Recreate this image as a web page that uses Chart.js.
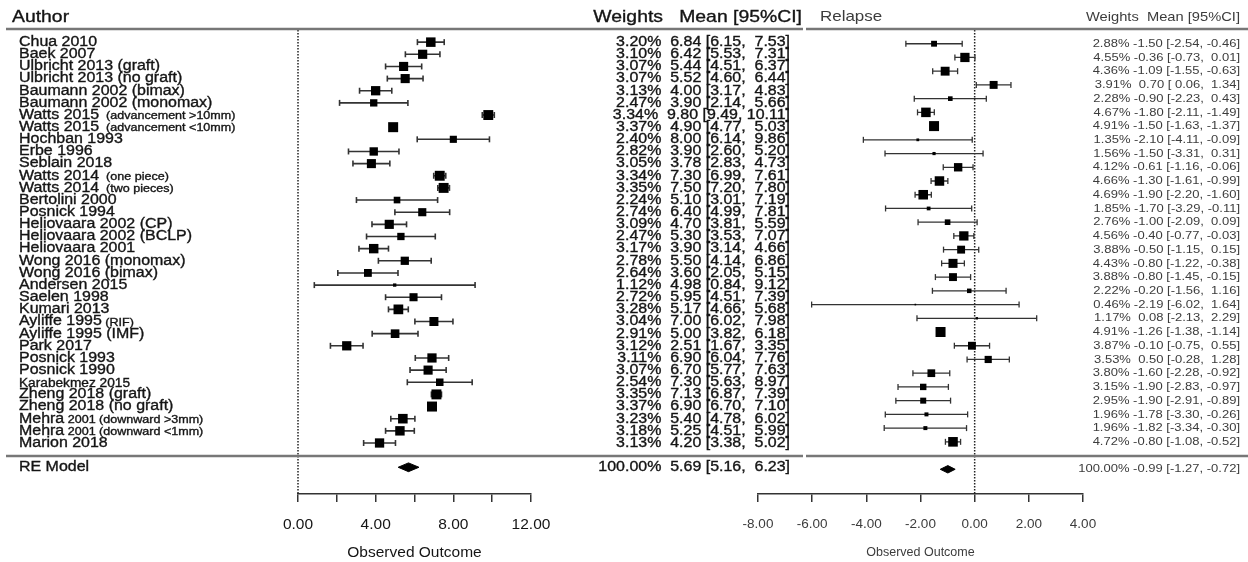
<!DOCTYPE html>
<html>
<head>
<meta charset="utf-8">
<script src="https://cdn.jsdelivr.net/npm/chart.js@4.4.1/dist/chart.umd.min.js"></script>
<style>
  body { margin: 0; background: #fff; }
  #wrap { position: relative; width: 1248px; height: 562px; }
  canvas { position: absolute; left: 0; top: 0; }
</style>
</head>
<body>
<div id="wrap">
  <canvas id="chartLeft" width="1248" height="562"></canvas>
  <canvas id="chartRight" width="1248" height="562"></canvas>
</div>
<script>
const FONT = "'Liberation Sans', Arial, Helvetica, sans-serif";
let refValue = 0;

// left panel
let authorNames = ['Chua 2010', 'Baek 2007', 'Ulbricht 2013 (graft)', 'Ulbricht 2013 (no graft)',
  'Baumann 2002 (bimax)', 'Baumann 2002 (monomax)', 'Watts 2015', 'Watts 2015', 'Hochban 1993',
  'Erbe 1996', 'Seblain 2018', 'Watts 2014', 'Watts 2014', 'Bertolini 2000', 'Posnick 1994',
  'Heliovaara 2002 (CP)', 'Heliovaara 2002 (BCLP)', 'Heliovaara 2001', 'Wong 2016 (monomax)',
  'Wong 2016 (bimax)', 'Andersen 2015', 'Saelen 1998', 'Kumari 2013', 'Ayliffe 1995',
  'Ayliffe 1995 (IMF)', 'Park 2017', 'Posnick 1993', 'Posnick 1990', '', 'Zheng 2018 (graft)',
  'Zheng 2018 (no graft)', 'Mehra', 'Mehra', 'Marion 2018'];
let authorNotes = ['', '', '', '', '', '', '  (advancement >10mm)', '  (advancement <10mm)', '', '',
  '', '  (one piece)', '  (two pieces)', '', '', '', '', '', '', '', '', '', '', ' (RIF)', '', '',
  '', '', 'Karabekmez 2015', '', '', ' 2001 (downward >3mm)', ' 2001 (downward <1mm)', ''];
let weightsLeft = [3.20, 3.10, 3.07, 3.07, 3.13, 2.47, 3.34, 3.37, 2.40, 2.82, 3.05, 3.34, 3.35,
  2.24, 2.74, 3.09, 2.47, 3.17, 2.78, 2.64, 1.12, 2.72, 3.28, 3.04, 2.91, 3.12, 3.11, 3.07, 2.54,
  3.35, 3.37, 3.23, 3.18, 3.13];
let meanLeft = [6.84, 6.42, 5.44, 5.52, 4.00, 3.90, 9.80, 4.90, 8.00, 3.90, 3.78, 7.30, 7.50,
  5.10, 6.40, 4.70, 5.30, 3.90, 5.50, 3.60, 4.98, 5.95, 5.17, 7.00, 5.00, 2.51, 6.90, 6.70, 7.30,
  7.13, 6.90, 5.40, 5.25, 4.20];
let lowerLeft = [6.15, 5.53, 4.51, 4.60, 3.17, 2.14, 9.49, 4.77, 6.14, 2.60, 2.83, 6.99, 7.20,
  3.01, 4.99, 3.81, 3.53, 3.14, 4.14, 2.05, 0.84, 4.51, 4.66, 6.02, 3.82, 1.67, 6.04, 5.77, 5.63,
  6.87, 6.70, 4.78, 4.51, 3.38];
let upperLeft = [7.53, 7.31, 6.37, 6.44, 4.83, 5.66, 10.11, 5.03, 9.86, 5.20, 4.73, 7.61, 7.80,
  7.19, 7.81, 5.59, 7.07, 4.66, 6.86, 5.15, 9.12, 7.39, 5.68, 7.98, 6.18, 3.35, 7.76, 7.63, 8.97,
  7.39, 7.10, 6.02, 5.99, 5.02];
let modelLeft = [5.69, 5.16, 6.23]; // estimate, lower, upper
let axisLeft = [0, 12, 2];          // min, max, step

// right panel (relapse)
let weightsRight = [2.88, 4.55, 4.36, 3.91, 2.28, 4.67, 4.91, 1.35, 1.56, 4.12, 4.66, 4.69, 1.85,
  2.76, 4.56, 3.88, 4.43, 3.88, 2.22, 0.46, 1.17, 4.91, 3.87, 3.53, 3.80, 3.15, 2.95, 1.96, 1.96,
  4.72];
let meanRight = [-1.50, -0.36, -1.09, 0.70, -0.90, -1.80, -1.50, -2.10, -1.50, -0.61, -1.30,
  -1.90, -1.70, -1.00, -0.40, -0.50, -0.80, -0.80, -0.20, -2.19, 0.08, -1.26, -0.10, 0.50, -1.60,
  -1.90, -1.90, -1.78, -1.82, -0.80];
let lowerRight = [-2.54, -0.73, -1.55, 0.06, -2.23, -2.11, -1.63, -4.11, -3.31, -1.16, -1.61,
  -2.20, -3.29, -2.09, -0.77, -1.15, -1.22, -1.45, -1.56, -6.02, -2.13, -1.38, -0.75, -0.28, -2.28,
  -2.83, -2.91, -3.30, -3.34, -1.08];
let upperRight = [-0.46, 0.01, -0.63, 1.34, 0.43, -1.49, -1.37, -0.09, 0.31, -0.06, -0.99, -1.60,
  -0.11, 0.09, -0.03, 0.15, -0.38, -0.15, 1.16, 1.64, 2.29, -1.14, 0.55, 1.28, -0.92, -0.97, -0.89,
  -0.26, -0.30, -0.52];
let modelRight = [-0.99, -1.27, -0.72];
let axisRight = [-8, 4, 2];

function colWidth(values) {
  return Math.max(...values.map(v => v.toFixed(2).length));
}

// one annotation string per row, padded like the source: "w%  est [lo, hi]"
function annotation(weight, est, lo, hi, widths, gap) {
  return weight.toFixed(2) + '%' + gap +
    est.toFixed(2).padStart(widths[0]) + ' [' +
    lo.toFixed(2).padStart(widths[1]) + ', ' +
    hi.toFixed(2).padStart(widths[2]) + ']';
}

// the source picture is stretched sideways, so text is drawn a bit wider than tall
function stretchText(ctx, text, x, y, sx, bold) {
  ctx.save();
  ctx.translate(x, y);
  ctx.scale(sx, 1);
  ctx.fillText(text, 0, 0);
  if (bold) {
    ctx.lineWidth = bold;
    ctx.strokeStyle = ctx.fillStyle;
    ctx.strokeText(text, 0, 0);
  }
  ctx.restore();
}

function buildDatasets(mean, lower, upper, weights, model, opts) {
  const maxW = Math.max(...weights);
  const reRow = mean.length + 2;
  let ci = [];
  for (let i = 0; i < mean.length; i++) {
    ci.push({x: lower[i], y: i + 1}, {x: upper[i], y: i + 1}, {x: null, y: null});
  }
  return [
    {
      // study boxes, sized by weight
      data: mean.map((m, i) => ({x: m, y: i + 1})),
      pointStyle: 'rect',
      pointRadius: (c) => Math.max(1.6, opts.maxBox * weights[c.dataIndex] / maxW) / Math.SQRT2,
      pointBackgroundColor: '#000',
      pointBorderWidth: 0,
      clip: false,
      order: 0,
    },
    {
      // confidence intervals with end ticks
      data: ci,
      showLine: true,
      borderColor: opts.lineColor,
      borderWidth: opts.lineWidth,
      pointStyle: 'line',
      pointRotation: 90,
      pointRadius: 3,
      pointBorderWidth: opts.lineWidth,
      pointBorderColor: opts.lineColor,
      clip: false,
      order: 1,
    },
    {
      // RE model diamond
      data: [
        {x: model[1], y: reRow}, {x: model[0], y: reRow - opts.diamondH},
        {x: model[2], y: reRow}, {x: model[0], y: reRow + opts.diamondH},
        {x: model[1], y: reRow}
      ],
      showLine: true,
      fill: 'shape',
      borderColor: '#000',
      backgroundColor: '#000',
      borderWidth: 1,
      pointRadius: 0,
      clip: false,
      order: 0,
    },
    {
      // no-effect reference line
      data: [{x: refValue, y: 0}, {x: refValue, y: opts.yMax}],
      showLine: true,
      borderColor: '#222',
      borderWidth: 1.5,
      borderDash: [1.5, 1.5],
      pointRadius: 0,
      clip: false,
      order: 2,
    }
  ];
}

function buildOptions(axis, opts) {
  return {
    responsive: false,
    animation: false,
    events: [],
    layout: { padding: opts.padding },
    plugins: { legend: { display: false }, tooltip: { enabled: false } },
    scales: {
      x: {
        type: 'linear',
        min: axis[0],
        max: axis[1],
        afterFit: (scale) => { scale.height = 68; },
        grid: { drawOnChartArea: false, drawTicks: true, tickLength: 8, color: '#333', lineWidth: 1.5 },
        border: { display: true, color: '#333', width: 1.5 },
        ticks: {
          stepSize: axis[2],
          autoSkip: false,
          maxRotation: 0,
          padding: opts.tickPad,
          color: opts.textColor,
          font: { family: FONT, size: opts.tickSize },
          callback: opts.tickLabel,
        },
        title: {
          display: true,
          text: 'Observed Outcome',
          color: opts.textColor,
          font: { family: FONT, size: opts.titleSize },
          padding: { top: 0, bottom: opts.titlePad },
        },
      },
      y: { type: 'linear', display: false, reverse: true, min: 0, max: opts.yMax },
    },
  };
}

const leftText = {
  id: 'leftText',
  afterDraw(chart) {
    const ctx = chart.ctx;
    const ys = chart.scales.y;
    const n = authorNames.length;
    const widths = [colWidth(meanLeft), colWidth(lowerLeft), colWidth(upperLeft)];
    const sx = 1.14;
    const b = 0.35;
    ctx.save();
    ctx.strokeStyle = '#777';
    ctx.lineWidth = 2.5;
    ctx.beginPath();
    ctx.moveTo(6, 29); ctx.lineTo(803, 29);
    ctx.moveTo(6, 456); ctx.lineTo(803, 456);
    ctx.stroke();

    ctx.fillStyle = '#151515';
    ctx.textBaseline = 'middle';
    ctx.font = '17px ' + FONT;
    ctx.textAlign = 'left';
    stretchText(ctx, 'Author', 12, 17, sx, b);
    ctx.textAlign = 'right';
    stretchText(ctx, 'Weights', 663, 17, sx, b);
    stretchText(ctx, 'Mean [95%CI]', 802, 17, sx, b);

    for (let i = 0; i < n; i++) {
      const y = ys.getPixelForValue(i + 1);
      ctx.textAlign = 'left';
      ctx.font = '14px ' + FONT;
      stretchText(ctx, authorNames[i], 19, y, sx, b);
      const w = ctx.measureText(authorNames[i]).width * sx;
      ctx.font = (w === 0 ? '12px ' : '11px ') + FONT;
      stretchText(ctx, authorNotes[i], 19 + w, y + 1, sx, b);
      ctx.font = '14px ' + FONT;
      ctx.textAlign = 'right';
      stretchText(ctx, annotation(weightsLeft[i], meanLeft[i], lowerLeft[i], upperLeft[i], widths, '  '), 790, y, sx, b);
    }
    const yRe = ys.getPixelForValue(n + 2);
    ctx.textAlign = 'left';
    stretchText(ctx, 'RE Model', 19, yRe, sx, b);
    ctx.textAlign = 'right';
    stretchText(ctx, annotation(100, modelLeft[0], modelLeft[1], modelLeft[2], widths, '  '), 790, yRe, sx, b);
    ctx.restore();
  }
};

const rightText = {
  id: 'rightText',
  afterDraw(chart) {
    const ctx = chart.ctx;
    const ys = chart.scales.y;
    const n = meanRight.length;
    const widths = [colWidth(meanRight), colWidth(lowerRight), colWidth(upperRight)];
    const sx = 1.13;
    ctx.save();
    ctx.strokeStyle = '#777';
    ctx.lineWidth = 2.5;
    ctx.beginPath();
    ctx.moveTo(806, 29); ctx.lineTo(1248, 29);
    ctx.moveTo(806, 456); ctx.lineTo(1248, 456);
    ctx.stroke();

    ctx.fillStyle = '#3c3c3c';
    ctx.textBaseline = 'middle';
    ctx.font = '15px ' + FONT;
    ctx.textAlign = 'left';
    stretchText(ctx, 'Relapse', 820, 17, sx);
    ctx.font = '13px ' + FONT;
    ctx.textAlign = 'right';
    stretchText(ctx, 'Weights  Mean [95%CI]', 1240, 17, sx);

    ctx.font = '11.5px ' + FONT;
    for (let i = 0; i < n; i++) {
      const y = ys.getPixelForValue(i + 1);
      stretchText(ctx, annotation(weightsRight[i], meanRight[i], lowerRight[i], upperRight[i], widths, ' '), 1240, y, sx);
    }
    const yRe = ys.getPixelForValue(n + 2);
    stretchText(ctx, annotation(100, modelRight[0], modelRight[1], modelRight[2], widths, ' '), 1240, yRe, sx);
    ctx.restore();
  }
};

const leftOpts = {
  padding: { left: 298, right: 717, top: 30, bottom: 0 },
  yMax: 38.2, maxBox: 10, diamondH: 0.36, lineColor: '#333', lineWidth: 1.6,
  tickPad: 13, tickSize: 15.5, titleSize: 15.5, titlePad: 0, textColor: '#151515',
  tickLabel: (v) => (v % 4 === 0 ? v.toFixed(2) : ''),
};
const rightOpts = {
  padding: { left: 758, right: 165, top: 30, bottom: 0 },
  yMax: 33.8, maxBox: 10, diamondH: 0.27, lineColor: '#333', lineWidth: 1.3,
  tickPad: 14, tickSize: 13.5, titleSize: 12.5, titlePad: 1.5, textColor: '#3c3c3c',
  tickLabel: (v) => v.toFixed(2),
};

new Chart(document.getElementById('chartLeft'), {
  type: 'scatter',
  data: { datasets: buildDatasets(meanLeft, lowerLeft, upperLeft, weightsLeft, modelLeft, leftOpts) },
  options: buildOptions(axisLeft, leftOpts),
  plugins: [leftText],
});

new Chart(document.getElementById('chartRight'), {
  type: 'scatter',
  data: { datasets: buildDatasets(meanRight, lowerRight, upperRight, weightsRight, modelRight, rightOpts) },
  options: buildOptions(axisRight, rightOpts),
  plugins: [rightText],
});
</script>
</body>
</html>
